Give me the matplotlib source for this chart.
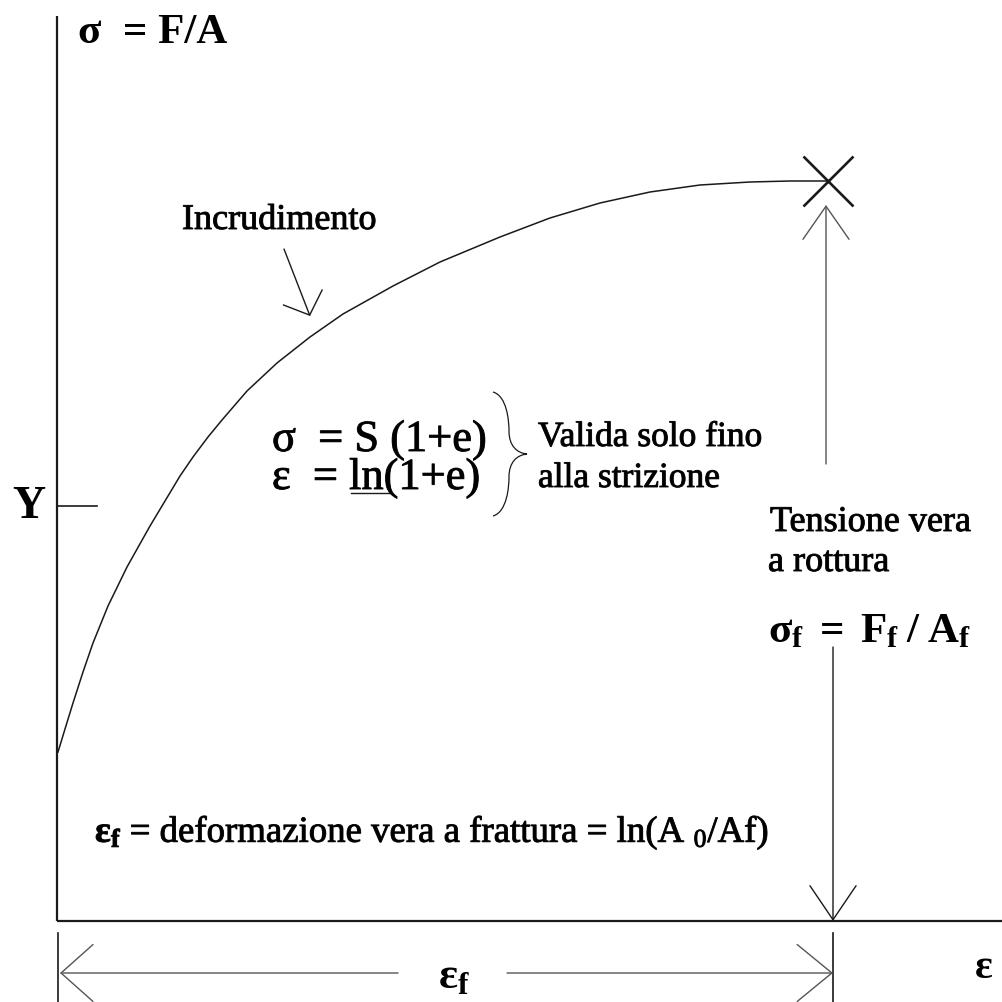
import matplotlib
matplotlib.use("Agg")
import matplotlib.pyplot as plt
import matplotlib.patheffects as pe
from matplotlib.path import Path
from matplotlib.patches import PathPatch

plt.rcParams['font.family'] = ['Liberation Serif', 'DejaVu Serif']
plt.rcParams['mathtext.fontset'] = 'custom'
plt.rcParams['mathtext.rm'] = 'Liberation Serif'
plt.rcParams['mathtext.bf'] = 'Liberation Serif:bold'
plt.rcParams['mathtext.it'] = 'Liberation Serif:italic'

# true stress / true strain curve (origin at the axes corner)
eps = [1, 8, 16, 26, 36, 51, 70, 93, 108, 123, 136, 151, 165, 190, 220, 253,
       286, 336, 383, 443, 493, 543, 593, 643, 693, 733, 771]
sigma = [169, 192, 218, 249, 278, 315, 354, 395, 420, 445, 464, 484, 501, 530, 558, 584,
         607, 635, 659, 684, 703, 718, 729, 736, 739, 740, 740]

eps_f = 776        # strain at fracture
sigma_f = 740      # true stress at fracture
eps_break = 771    # where the curve ends (X mark)
Y_level = 415      # yield stress tick

fig = plt.figure(figsize=(10.02, 10.03), dpi=100)
ax = fig.add_axes([0, 0, 1, 1])
ax.set_xlim(-57, 945)
ax.set_ylim(-81, 922)
ax.axis('off')

ink = '#1a1a1a'
grey = '#555555'
heavy = [pe.withStroke(linewidth=0.7, foreground=ink)]

# axes
ax.plot([0, 0], [0, 905], color=ink, lw=1.6, solid_capstyle='butt')
ax.plot([0, 945], [0, 0], color=ink, lw=1.6, solid_capstyle='butt')
ax.plot([0, 40], [Y_level, Y_level], color=ink, lw=1.2)
ax.text(-28, Y_level, 'Y', fontsize=33, fontweight='bold', ha='center', va='center')

# curve and fracture point
ax.plot(eps, sigma, color=ink, lw=1.1, solid_joinstyle='round')
ax.plot([eps_break], [sigma_f], marker='x', ms=36, mew=1.9, color=ink)


def arrow(tail, tip, hl, hw, color=grey, lw=1.0):
    ax.annotate('', xy=tip, xytext=tail,
                arrowprops=dict(arrowstyle=f'->,head_length={hl},head_width={hw}',
                                color=color, lw=lw, mutation_scale=1,
                                shrinkA=0, shrinkB=0))


# arrows to the fracture stress
arrow((769, 457), (769, 716), 23.8, 16.6)
arrow((776, 274), (776, 0), 24.5, 16.6, color=ink)

# strain at fracture dimension
ax.plot([1, 1], [-12, -81], color=ink, lw=1.2)
ax.plot([eps_f, eps_f], [-12, -81], color=ink, lw=1.2)
arrow((341, -52), (3, -52), 23.0, 20.5)
arrow((450, -52), (eps_f, -52), 25.0, 20.5)
ax.text(397, -55, r'$\mathbf{\varepsilon_f}$', fontsize=32, ha='center', va='center')
ax.text(926, -46, r'$\mathbf{\varepsilon}$', fontsize=30, ha='center', va='center')

# labels
ax.text(21, 879, 'σ  = F/A', fontsize=31, fontweight='bold', ha='left', va='baseline')
ax.text(125, 692, 'Incrudimento', fontsize=26, ha='left', va='baseline', path_effects=heavy)
arrow((227, 672), (253, 605), 13.7, 15.0, color=ink)

ax.text(215, 470, 'σ  = S (1+e)', fontsize=32, ha='left', va='baseline', path_effects=heavy)
ax.text(215, 432, 'ε  = ln(1+e)', fontsize=32, ha='left', va='baseline', path_effects=heavy)
ax.plot([294, 332], [428, 428], color=ink, lw=1.0)

# brace
brace = Path([(436, 529), (450, 525), (452, 500), (452, 490),
              (452, 475), (460, 468), (470, 467),
              (460, 466), (452, 459), (452, 444),
              (452, 434), (450, 409), (436, 405)],
             [Path.MOVETO, Path.CURVE4, Path.CURVE4, Path.CURVE4,
              Path.CURVE4, Path.CURVE4, Path.CURVE4,
              Path.CURVE4, Path.CURVE4, Path.CURVE4,
              Path.CURVE4, Path.CURVE4, Path.CURVE4])
ax.add_patch(PathPatch(brace, fill=False, color=ink, lw=0.9))

ax.text(481, 475, 'Valida solo fino', fontsize=25.5, ha='left', va='baseline', path_effects=heavy)
ax.text(481, 434, 'alla strizione', fontsize=25.5, ha='left', va='baseline', path_effects=heavy)

ax.text(713, 390, 'Tensione vera', fontsize=26, ha='left', va='baseline', path_effects=heavy)
ax.text(711, 350, 'a rottura', fontsize=26, ha='left', va='baseline', path_effects=heavy)
ax.text(711, 280, r'$\mathbf{\sigma_f\ =\ F_f\;/\;A_f}$', fontsize=31, ha='left', va='baseline')

ax.text(38, 79, r'$\mathbf{\varepsilon_f}$ = deformazione vera a frattura = ln(A $_0$/Af)',
        fontsize=26.5, ha='left', va='baseline', path_effects=heavy)

fig.savefig('out.png', dpi=100, facecolor='white')
